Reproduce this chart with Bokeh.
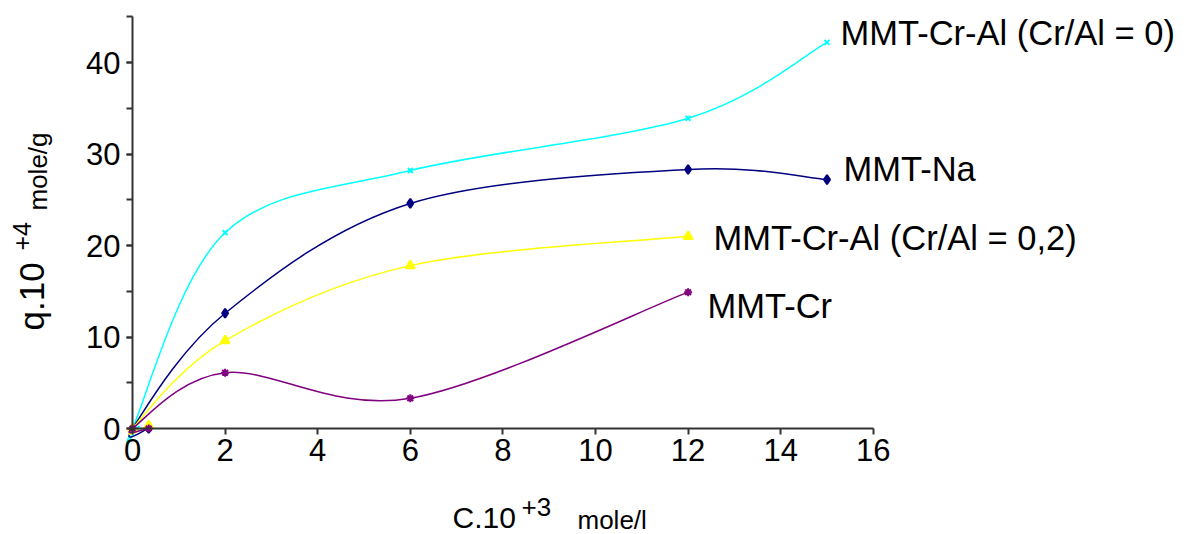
from bokeh.plotting import figure
from bokeh.models import Range1d, Label, SingleIntervalTicker, FixedTicker
from bokeh.embed import file_html
from bokeh.resources import INLINE
import math

# ---- data ----
cyan_c = [0.1, 0.0, 2, 6, 12, 15]
cyan_q = [0.0, 0.0, 21.4, 28.2, 33.9, 42.2]
na_c = [0.35, 0.0, 2, 6, 12, 15]
na_q = [0.0, 0.0, 12.6, 24.6, 28.3, 27.2]
yel_c = [0.35, 0.0, 2, 6, 12]
yel_q = [0.3, 0.0, 9.6, 17.8, 21.0]
cr_c = [0.35, 0.0, 2, 6, 12]
cr_q = [0.0, 0.0, 6.1, 3.3, 14.9]

names = ["MMT-Cr-Al (Cr/Al = 0)", "MMT-Na", "MMT-Cr-Al (Cr/Al = 0,2)", "MMT-Cr"]
x_ticks = [0, 2, 4, 6, 8, 10, 12, 14, 16]

# ---- layout constants (pixels) ----
W, H = 1187, 534
LEFT, BOTTOM_PX = 132, 428      # pixel of x=0 / pixel of y=0
SX, SY = 46.3, 9.15             # px per unit
K = 0.42                        # baseline correction (fraction of font size)


def dx(px):
    return (px - LEFT) / SX


def dy(py):
    return (BOTTOM_PX - py) / SY


FONT = "Liberation Sans"

p = figure(width=W, height=H, output_backend="svg", toolbar_location=None,
           x_range=Range1d(dx(0), dx(W)), y_range=Range1d(dy(H), dy(0)),
           min_border_left=0, min_border_right=0, min_border_top=0,
           min_border_bottom=0)
p.outline_line_color = None
p.grid.visible = False
p.background_fill_color = "white"
p.border_fill_color = "white"

# axes (placed at x=0 / y=0 inside the frame)
xa = p.xaxis[0]
xa.fixed_location = 0
xa.ticker = FixedTicker(ticks=x_ticks)
xa.bounds = (0, 16)
ya = p.yaxis[0]
ya.fixed_location = 0
ya.ticker = SingleIntervalTicker(interval=10, num_minor_ticks=2)
ya.bounds = (0, 45)
for ax in (xa, ya):
    ax.axis_line_color = "#333333"
    ax.axis_line_width = 2
    ax.major_tick_line_color = "#333333"
    ax.major_tick_line_width = 2
    ax.major_tick_out = 6
    ax.major_tick_in = 0
    ax.minor_tick_line_color = "#333333"
    ax.minor_tick_line_width = 2
    ax.minor_tick_out = 6
    ax.minor_tick_in = 0
    ax.major_label_text_font = FONT
    ax.major_label_text_font_size = "31px"
    ax.major_label_text_color = "black"
xa.minor_tick_line_color = None
xa.major_label_standoff = 4
ya.major_label_standoff = 6


def smooth(p, xs, ys, color, width=1.5):
    n = len(xs)
    x0, y0, x1, y1, cx0, cy0, cx1, cy1 = [], [], [], [], [], [], [], []
    for i in range(n - 1):
        ia = max(i - 1, 0)
        ib = min(i + 2, n - 1)
        x0.append(xs[i]); y0.append(ys[i])
        x1.append(xs[i + 1]); y1.append(ys[i + 1])
        cx0.append(xs[i] + (xs[i + 1] - xs[ia]) / 6.0)
        cy0.append(ys[i] + (ys[i + 1] - ys[ia]) / 6.0)
        cx1.append(xs[i + 1] - (xs[ib] - xs[i]) / 6.0)
        cy1.append(ys[i + 1] - (ys[ib] - ys[i]) / 6.0)
    p.bezier(x0=x0, y0=y0, x1=x1, y1=y1, cx0=cx0, cy0=cy0, cx1=cx1, cy1=cy1,
             line_color=color, line_width=width)


series = [
    (cyan_c, cyan_q, "#00FFFF", "x", 7),
    (na_c, na_q, "#000080", "diamond", 9),
    (yel_c, yel_q, "#FFFF00", "triangle", 9),
    (cr_c, cr_q, "#800080", "asterisk", 8),
]
for xs, ys, col, mk, sz in series:
    smooth(p, xs, ys, col)
    p.scatter(xs, ys, marker=mk, size=sz, line_color=col, fill_color=col, line_width=2)


def hlabel(text, px, base_py, size):
    p.add_layout(Label(x=dx(px), y=dy(base_py - K * size), text=text, text_font=FONT,
                       text_font_size=f"{size}px", text_color="black",
                       text_align="left", text_baseline="alphabetic"))


def vlabel(text, base_px, py, size):
    p.add_layout(Label(x=dx(base_px - K * size), y=dy(py), text=text, text_font=FONT,
                       angle=math.pi / 2, text_font_size=f"{size}px", text_color="black",
                       text_align="left", text_baseline="alphabetic"))


# series labels
lab_pos = [(840, 47), (843, 183), (713, 252), (707, 320)]
for name, (px, py) in zip(names, lab_pos):
    hlabel(name, px, py, 34.5)

# x axis title
hlabel("C.10", 452, 530, 30)
hlabel("+3", 521, 517, 26)
hlabel("mole/l", 577, 530, 26)

# y axis title (rotated)
vlabel("q.10", 46, 330, 35)
vlabel("+4", 32, 250, 25)
vlabel("mole/g", 48, 210, 26)

open("out.html", "w").write(file_html(p, INLINE))
